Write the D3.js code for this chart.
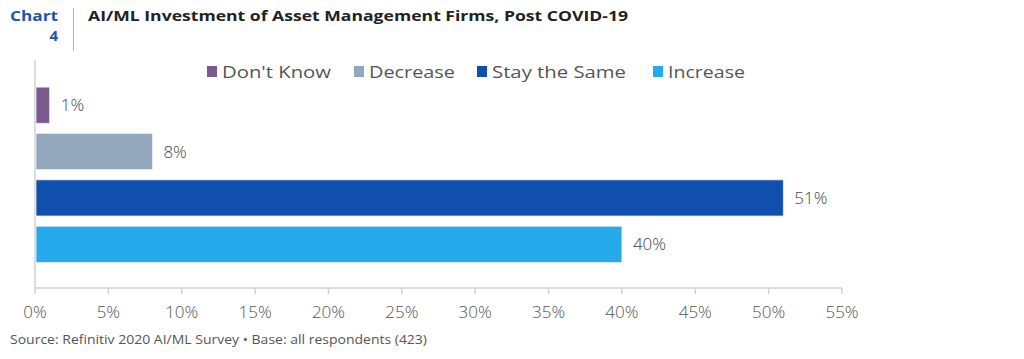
<!DOCTYPE html>
<html lang="en">
<head>
<meta charset="UTF-8">
<title>AI/ML Investment of Asset Management Firms</title>
<script src="https://d3js.org/d3.v7.min.js"></script>
<style>
  body { margin: 0; background: #fff; font-family: 'Open Sans', 'Noto Sans', sans-serif; }
  .tick-label { font-size: 17px; fill: #555; font-weight: 300; }
  .value-label { font-size: 17px; fill: #444; font-weight: 300; }
  .legend-label { font-size: 17px; fill: #555; font-weight: 400; }
</style>
</head>
<body>
<svg id="chart" width="1024" height="359"></svg>
<script>
// Data
const categories = ["Don't Know", "Decrease", "Stay the Same", "Increase"];
const values = [1, 8, 51, 40];
const colors = ["#7b5a8f", "#93a8bd", "#114fae", "#27aaeb"];
const ticks = [0, 5, 10, 15, 20, 25, 30, 35, 40, 45, 50, 55];

const svg = d3.select('#chart');

// Scales
const x = d3.scaleLinear().domain([0, 55]).range([35, 842]);
const y = d3.scaleBand().domain(categories).range([82, 267.5])
  .paddingInner(0.22).paddingOuter(0.11);

// Header (Montserrat is not available, so stretch the text to its width)
svg.append('text').attr('x', 10).attr('y', 21)
  .attr('textLength', 48).attr('lengthAdjust', 'spacingAndGlyphs')
  .style('font-size', '15px').style('font-weight', 700).style('fill', '#1a56b0')
  .text('Chart');
svg.append('text').attr('x', 58).attr('y', 41).attr('text-anchor', 'end')
  .style('font-size', '15px').style('font-weight', 700).style('fill', '#1a56b0')
  .text('4');
svg.append('line').attr('x1', 73.5).attr('x2', 73.5).attr('y1', 8).attr('y2', 51)
  .style('stroke', '#8db8e0').style('stroke-width', 1);
svg.append('text').attr('x', 88).attr('y', 21)
  .attr('textLength', 540).attr('lengthAdjust', 'spacingAndGlyphs')
  .style('font-size', '15px').style('font-weight', 700).style('fill', '#222')
  .text('AI/ML Investment of Asset Management Firms, Post COVID-19');

// Legend
const legendX = [207, 354, 477, 653];
const legendW = [109, 86, 134, 77];
const legend = svg.append('g');
categories.forEach((c, i) => {
  legend.append('rect').attr('x', legendX[i]).attr('y', 66).attr('width', 10).attr('height', 11)
    .style('fill', colors[i]);
  legend.append('text').attr('class', 'legend-label')
    .attr('x', legendX[i] + 15).attr('y', 78)
    .attr('textLength', legendW[i]).attr('lengthAdjust', 'spacingAndGlyphs')
    .text(c);
});

// Vertical axis line
svg.append('line').attr('x1', x(0)).attr('x2', x(0)).attr('y1', 60).attr('y2', 288)
  .style('stroke', '#d0d0d0').style('stroke-width', 1.5);

// Bars
svg.selectAll('.bar').data(values).enter().append('rect')
  .attr('class', 'bar')
  .attr('x', x(0) + 1)
  .attr('y', (d, i) => y(categories[i]))
  .attr('width', d => x(d) - x(0) - 1)
  .attr('height', y.bandwidth())
  .style('fill', (d, i) => colors[i])
  .style('stroke', '#e8edf3').style('stroke-width', 0.8);

// Value labels
svg.selectAll('.value-label').data(values).enter().append('text')
  .attr('class', 'value-label')
  .attr('x', d => x(d) + 11)
  .attr('y', (d, i) => y(categories[i]) + y.bandwidth() / 2)
  .attr('dy', '0.35em')
  .text(d => d + '%');

// X axis
const xAxis = svg.append('g').attr('transform', 'translate(0,288)');
xAxis.append('line').attr('x1', x(0)).attr('x2', x(55))
  .style('stroke', '#d0d0d0').style('stroke-width', 1.5);
ticks.forEach(t => {
  xAxis.append('line').attr('x1', x(t)).attr('x2', x(t)).attr('y1', 0).attr('y2', 6)
    .style('stroke', '#d0d0d0').style('stroke-width', 1.5);
  xAxis.append('text').attr('class', 'tick-label')
    .attr('x', x(t)).attr('y', 30).attr('text-anchor', 'middle')
    .text(t + '%');
});

// Source
svg.append('text').attr('x', 10).attr('y', 344)
  .attr('textLength', 417).attr('lengthAdjust', 'spacingAndGlyphs')
  .style('font-size', '13px').style('fill', '#555')
  .text('Source: Refinitiv 2020 AI/ML Survey \u2022 Base: all respondents (423)');
</script>
</body>
</html>
